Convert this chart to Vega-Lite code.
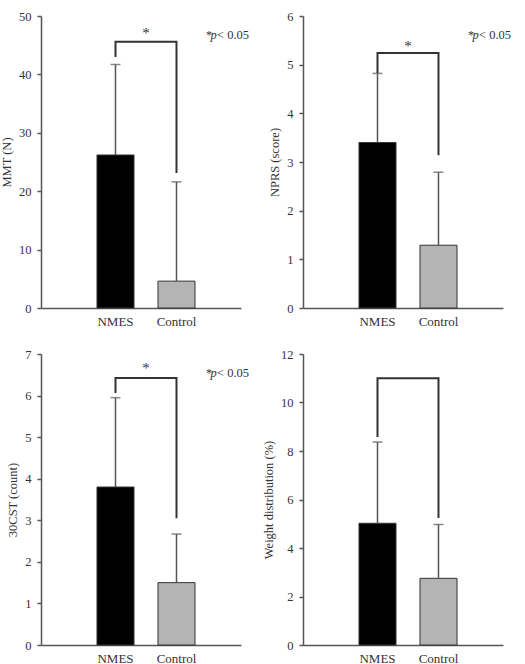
{
  "$schema": "https://vega.github.io/schema/vega-lite/v6.json",
  "background": "white",
  "padding": {"left": 0, "top": 10, "right": 5, "bottom": 0},
  "datasets": {
    "mmt": [
      {"group": "NMES", "mean": 26.2, "upper": 41.7},
      {"group": "Control", "mean": 4.6, "upper": 21.6}
    ],
    "mmt_bracket": [
      {"group": "NMES", "y": 43.0, "o": 1},
      {"group": "NMES", "y": 45.6, "o": 2},
      {"group": "Control", "y": 45.6, "o": 3},
      {"group": "Control", "y": 23.1, "o": 4}
    ],
    "mmt_note": [{"group": "NMES", "star": 47.6, "note": 46.7}],
    "nprs": [
      {"group": "NMES", "mean": 3.4, "upper": 4.82},
      {"group": "Control", "mean": 1.29, "upper": 2.79}
    ],
    "nprs_bracket": [
      {"group": "NMES", "y": 4.83, "o": 1},
      {"group": "NMES", "y": 5.24, "o": 2},
      {"group": "Control", "y": 5.24, "o": 3},
      {"group": "Control", "y": 3.14, "o": 4}
    ],
    "nprs_note": [{"group": "NMES", "star": 5.44, "note": 5.61}],
    "cst": [
      {"group": "NMES", "mean": 3.8, "upper": 5.95},
      {"group": "Control", "mean": 1.5, "upper": 2.67}
    ],
    "cst_bracket": [
      {"group": "NMES", "y": 6.06, "o": 1},
      {"group": "NMES", "y": 6.42, "o": 2},
      {"group": "Control", "y": 6.42, "o": 3},
      {"group": "Control", "y": 3.05, "o": 4}
    ],
    "cst_note": [{"group": "NMES", "star": 6.74, "note": 6.54}],
    "weight": [
      {"group": "NMES", "mean": 5.02, "upper": 8.37},
      {"group": "Control", "mean": 2.75, "upper": 4.97}
    ],
    "weight_bracket": [
      {"group": "NMES", "y": 8.58, "o": 1},
      {"group": "NMES", "y": 11.0, "o": 2},
      {"group": "Control", "y": 11.0, "o": 3},
      {"group": "Control", "y": 5.24, "o": 4}
    ]
  },
  "config": {
    "view": {"stroke": null},
    "font": "Liberation Serif",
    "axis": {
      "domainColor": "#555555",
      "domainWidth": 1.5,
      "tickColor": "#555555",
      "tickWidth": 1.5,
      "labelFont": "Liberation Serif",
      "titleFont": "Liberation Serif",
      "labelColor": "#333333",
      "titleColor": "#333333",
      "labelFontSize": 12.5,
      "titleFontSize": 12.5,
      "titleFontWeight": "normal",
      "grid": false
    },
    "axisX": {"ticks": false, "labelAngle": 0, "labelPadding": 7, "labelFontSize": 13, "title": null},
    "axisY": {"tickSize": 4, "labelPadding": 6, "titlePadding": 5}
  },
  "columns": 2,
  "bounds": "flush",
  "spacing": {"row": 46, "column": 62},
  "concat": [
    {
      "width": 200,
      "height": 292,
      "layer": [
        {
          "data": {"name": "mmt"},
          "mark": {"type": "bar", "stroke": "#333333", "strokeWidth": 1},
          "encoding": {
            "x": {"field": "group", "type": "nominal", "scale": {"domain": ["NMES", "Control"], "paddingInner": 0.393, "paddingOuter": 0.836, "align": 0.549}},
            "y": {"field": "mean", "type": "quantitative", "scale": {"domain": [0, 50], "nice": false}, "axis": {"title": "MMT (N)", "values": [0, 10, 20, 30, 40, 50]}},
            "fill": {"field": "group", "type": "nominal", "scale": {"domain": ["NMES", "Control"], "range": ["#000000", "#b4b4b4"]}, "legend": null}
          }
        },
        {
          "data": {"name": "mmt"},
          "mark": {"type": "rule", "color": "#555555", "strokeWidth": 1.5},
          "encoding": {"x": {"field": "group", "type": "nominal"}, "y": {"field": "mean", "type": "quantitative"}, "y2": {"field": "upper"}}
        },
        {
          "data": {"name": "mmt"},
          "mark": {"type": "tick", "color": "#555555", "thickness": 1.5, "size": 10},
          "encoding": {"x": {"field": "group", "type": "nominal"}, "y": {"field": "upper", "type": "quantitative"}}
        },
        {
          "data": {"name": "mmt_bracket"},
          "mark": {"type": "line", "color": "#333333", "strokeWidth": 2},
          "encoding": {"x": {"field": "group", "type": "nominal"}, "y": {"field": "y", "type": "quantitative"}, "order": {"field": "o"}}
        },
        {
          "data": {"name": "mmt_note"},
          "mark": {"type": "text", "text": "*", "fontSize": 15, "dx": 30.5, "dy": 3, "baseline": "middle", "color": "#333333"},
          "encoding": {"x": {"field": "group", "type": "nominal"}, "y": {"field": "star", "type": "quantitative"}}
        },
        {
          "data": {"name": "mmt_note"},
          "mark": {"type": "text", "text": "*", "fontSize": 12, "dx": 90.5, "dy": 0, "align": "left", "baseline": "middle", "color": "#333333"},
          "encoding": {"x": {"field": "group", "type": "nominal"}, "y": {"field": "note", "type": "quantitative"}}
        },
        {
          "data": {"name": "mmt_note"},
          "mark": {"type": "text", "text": "p", "fontSize": 12.5, "fontStyle": "italic", "dx": 95, "align": "left", "baseline": "middle", "color": "#333333"},
          "encoding": {"x": {"field": "group", "type": "nominal"}, "y": {"field": "note", "type": "quantitative"}}
        },
        {
          "data": {"name": "mmt_note"},
          "mark": {"type": "text", "text": "< 0.05", "fontSize": 12.5, "dx": 101.5, "align": "left", "baseline": "middle", "color": "#333333"},
          "encoding": {"x": {"field": "group", "type": "nominal"}, "y": {"field": "note", "type": "quantitative"}}
        }
      ]
    },
    {
      "width": 200,
      "height": 292,
      "layer": [
        {
          "data": {"name": "nprs"},
          "mark": {"type": "bar", "stroke": "#333333", "strokeWidth": 1},
          "encoding": {
            "x": {"field": "group", "type": "nominal", "scale": {"domain": ["NMES", "Control"], "paddingInner": 0.393, "paddingOuter": 0.836, "align": 0.549}},
            "y": {"field": "mean", "type": "quantitative", "scale": {"domain": [0, 6], "nice": false}, "axis": {"title": "NPRS (score)", "values": [0, 1, 2, 3, 4, 5, 6]}},
            "fill": {"field": "group", "type": "nominal", "scale": {"domain": ["NMES", "Control"], "range": ["#000000", "#b4b4b4"]}, "legend": null}
          }
        },
        {
          "data": {"name": "nprs"},
          "mark": {"type": "rule", "color": "#555555", "strokeWidth": 1.5},
          "encoding": {"x": {"field": "group", "type": "nominal"}, "y": {"field": "mean", "type": "quantitative"}, "y2": {"field": "upper"}}
        },
        {
          "data": {"name": "nprs"},
          "mark": {"type": "tick", "color": "#555555", "thickness": 1.5, "size": 10},
          "encoding": {"x": {"field": "group", "type": "nominal"}, "y": {"field": "upper", "type": "quantitative"}}
        },
        {
          "data": {"name": "nprs_bracket"},
          "mark": {"type": "line", "color": "#333333", "strokeWidth": 2},
          "encoding": {"x": {"field": "group", "type": "nominal"}, "y": {"field": "y", "type": "quantitative"}, "order": {"field": "o"}}
        },
        {
          "data": {"name": "nprs_note"},
          "mark": {"type": "text", "text": "*", "fontSize": 15, "dx": 30.5, "dy": 3, "baseline": "middle", "color": "#333333"},
          "encoding": {"x": {"field": "group", "type": "nominal"}, "y": {"field": "star", "type": "quantitative"}}
        },
        {
          "data": {"name": "nprs_note"},
          "mark": {"type": "text", "text": "*", "fontSize": 12, "dx": 90.5, "dy": 0, "align": "left", "baseline": "middle", "color": "#333333"},
          "encoding": {"x": {"field": "group", "type": "nominal"}, "y": {"field": "note", "type": "quantitative"}}
        },
        {
          "data": {"name": "nprs_note"},
          "mark": {"type": "text", "text": "p", "fontSize": 12.5, "fontStyle": "italic", "dx": 95, "align": "left", "baseline": "middle", "color": "#333333"},
          "encoding": {"x": {"field": "group", "type": "nominal"}, "y": {"field": "note", "type": "quantitative"}}
        },
        {
          "data": {"name": "nprs_note"},
          "mark": {"type": "text", "text": "< 0.05", "fontSize": 12.5, "dx": 101.5, "align": "left", "baseline": "middle", "color": "#333333"},
          "encoding": {"x": {"field": "group", "type": "nominal"}, "y": {"field": "note", "type": "quantitative"}}
        }
      ]
    },
    {
      "width": 200,
      "height": 291,
      "layer": [
        {
          "data": {"name": "cst"},
          "mark": {"type": "bar", "stroke": "#333333", "strokeWidth": 1},
          "encoding": {
            "x": {"field": "group", "type": "nominal", "scale": {"domain": ["NMES", "Control"], "paddingInner": 0.393, "paddingOuter": 0.836, "align": 0.549}},
            "y": {"field": "mean", "type": "quantitative", "scale": {"domain": [0, 7], "nice": false}, "axis": {"title": "30CST (count)", "values": [0, 1, 2, 3, 4, 5, 6, 7]}},
            "fill": {"field": "group", "type": "nominal", "scale": {"domain": ["NMES", "Control"], "range": ["#000000", "#b4b4b4"]}, "legend": null}
          }
        },
        {
          "data": {"name": "cst"},
          "mark": {"type": "rule", "color": "#555555", "strokeWidth": 1.5},
          "encoding": {"x": {"field": "group", "type": "nominal"}, "y": {"field": "mean", "type": "quantitative"}, "y2": {"field": "upper"}}
        },
        {
          "data": {"name": "cst"},
          "mark": {"type": "tick", "color": "#555555", "thickness": 1.5, "size": 10},
          "encoding": {"x": {"field": "group", "type": "nominal"}, "y": {"field": "upper", "type": "quantitative"}}
        },
        {
          "data": {"name": "cst_bracket"},
          "mark": {"type": "line", "color": "#333333", "strokeWidth": 2},
          "encoding": {"x": {"field": "group", "type": "nominal"}, "y": {"field": "y", "type": "quantitative"}, "order": {"field": "o"}}
        },
        {
          "data": {"name": "cst_note"},
          "mark": {"type": "text", "text": "*", "fontSize": 15, "dx": 30.5, "dy": 3, "baseline": "middle", "color": "#333333"},
          "encoding": {"x": {"field": "group", "type": "nominal"}, "y": {"field": "star", "type": "quantitative"}}
        },
        {
          "data": {"name": "cst_note"},
          "mark": {"type": "text", "text": "*", "fontSize": 12, "dx": 90.5, "dy": 0, "align": "left", "baseline": "middle", "color": "#333333"},
          "encoding": {"x": {"field": "group", "type": "nominal"}, "y": {"field": "note", "type": "quantitative"}}
        },
        {
          "data": {"name": "cst_note"},
          "mark": {"type": "text", "text": "p", "fontSize": 12.5, "fontStyle": "italic", "dx": 95, "align": "left", "baseline": "middle", "color": "#333333"},
          "encoding": {"x": {"field": "group", "type": "nominal"}, "y": {"field": "note", "type": "quantitative"}}
        },
        {
          "data": {"name": "cst_note"},
          "mark": {"type": "text", "text": "< 0.05", "fontSize": 12.5, "dx": 101.5, "align": "left", "baseline": "middle", "color": "#333333"},
          "encoding": {"x": {"field": "group", "type": "nominal"}, "y": {"field": "note", "type": "quantitative"}}
        }
      ]
    },
    {
      "width": 200,
      "height": 291,
      "layer": [
        {
          "data": {"name": "weight"},
          "mark": {"type": "bar", "stroke": "#333333", "strokeWidth": 1},
          "encoding": {
            "x": {"field": "group", "type": "nominal", "scale": {"domain": ["NMES", "Control"], "paddingInner": 0.393, "paddingOuter": 0.836, "align": 0.549}},
            "y": {"field": "mean", "type": "quantitative", "scale": {"domain": [0, 12], "nice": false}, "axis": {"title": "Weight distribution (%)", "values": [0, 2, 4, 6, 8, 10, 12]}},
            "fill": {"field": "group", "type": "nominal", "scale": {"domain": ["NMES", "Control"], "range": ["#000000", "#b4b4b4"]}, "legend": null}
          }
        },
        {
          "data": {"name": "weight"},
          "mark": {"type": "rule", "color": "#555555", "strokeWidth": 1.5},
          "encoding": {"x": {"field": "group", "type": "nominal"}, "y": {"field": "mean", "type": "quantitative"}, "y2": {"field": "upper"}}
        },
        {
          "data": {"name": "weight"},
          "mark": {"type": "tick", "color": "#555555", "thickness": 1.5, "size": 10},
          "encoding": {"x": {"field": "group", "type": "nominal"}, "y": {"field": "upper", "type": "quantitative"}}
        },
        {
          "data": {"name": "weight_bracket"},
          "mark": {"type": "line", "color": "#333333", "strokeWidth": 2},
          "encoding": {"x": {"field": "group", "type": "nominal"}, "y": {"field": "y", "type": "quantitative"}, "order": {"field": "o"}}
        }
      ]
    }
  ]
}
